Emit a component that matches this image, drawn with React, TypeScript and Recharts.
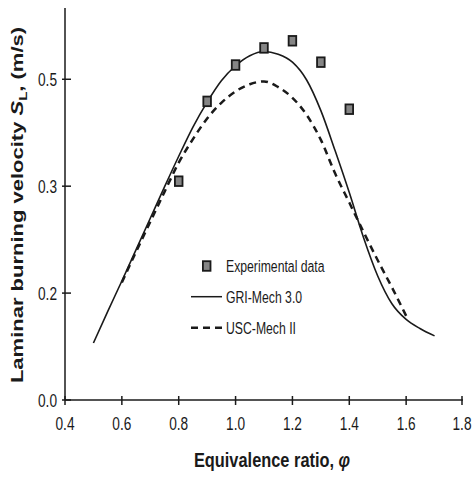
import React from 'react';
import { ComposedChart, Line, Scatter, XAxis, YAxis, Legend } from 'recharts';

// GRI-Mech 3.0 (solid)
const phiGri = [0.5, 0.55, 0.6, 0.65, 0.7, 0.75, 0.8, 0.85, 0.9, 0.95, 1.0, 1.05, 1.1, 1.15, 1.2, 1.25, 1.3, 1.35, 1.4, 1.45, 1.5, 1.55, 1.6, 1.65, 1.7];
const sGri = [0.08, 0.124, 0.167, 0.211, 0.255, 0.299, 0.342, 0.383, 0.418, 0.448, 0.469, 0.483, 0.489, 0.485, 0.474, 0.449, 0.406, 0.35, 0.291, 0.228, 0.174, 0.135, 0.113, 0.1, 0.09];

// USC-Mech II (dashed)
const phiUsc = [0.6, 0.65, 0.7, 0.75, 0.8, 0.85, 0.9, 0.95, 1.0, 1.05, 1.1, 1.15, 1.2, 1.25, 1.3, 1.35, 1.4, 1.45, 1.5, 1.55, 1.6];
const sUsc = [0.165, 0.208, 0.25, 0.292, 0.333, 0.366, 0.395, 0.417, 0.433, 0.443, 0.447, 0.439, 0.424, 0.4, 0.365, 0.318, 0.277, 0.236, 0.196, 0.158, 0.118];

// experimental data
const phiExp = [0.8, 0.9, 1.0, 1.1, 1.2, 1.3, 1.4];
const sExp = [0.307, 0.419, 0.47, 0.494, 0.504, 0.474, 0.408];

const xTicks = [0.4, 0.6, 0.8, 1.0, 1.2, 1.4, 1.6, 1.8];
const yTicks = [0, 0.15, 0.3, 0.45];

const griData = phiGri.map((phi, i) => ({ phi, s: sGri[i] }));
const uscData = phiUsc.map((phi, i) => ({ phi, s: sUsc[i] }));
const expData = phiExp.map((phi, i) => ({ phi, s: sExp[i] }));

const FONT = "'Liberation Sans', Arial, sans-serif";
const INK = '#1a1a1a';
const SQUEEZE = 0.72;

const fmtY = (v: number) => (Math.round(v * 10 + 1e-9) / 10).toFixed(1);

const XTick = (props: any) => {
  const { x, y, payload } = props;
  return (
    <g>
      <line x1={x} x2={x} y1={y - 4} y2={y + 5} stroke={INK} strokeWidth={1.5} />
      <text transform={`translate(${x},${y + 30}) scale(${SQUEEZE},1)`} textAnchor="middle"
        fontFamily={FONT} fontSize={19} fill={INK}>
        {Number(payload.value).toFixed(1)}
      </text>
    </g>
  );
};

const YTick = (props: any) => {
  const { x, y, payload } = props;
  return (
    <g>
      <line x1={x - 3} x2={x + 6} y1={y} y2={y} stroke={INK} strokeWidth={1.5} />
      <text transform={`translate(${x - 8},${y + 7}) scale(${SQUEEZE},1)`} textAnchor="end"
        fontFamily={FONT} fontSize={19} fill={INK}>
        {fmtY(payload.value)}
      </text>
    </g>
  );
};

const XTitle = (props: any) => {
  const vb = props.viewBox || { x: 65, y: 400, width: 398 };
  const cx = vb.x + vb.width / 2 + 8;
  return (
    <text transform={`translate(${cx},467) scale(${SQUEEZE + 0.06},1)`} textAnchor="middle"
      fontFamily={FONT} fontSize={21} fontWeight="bold" fill={INK}>
      Equivalence ratio, <tspan fontStyle="italic">φ</tspan>
    </text>
  );
};

const YTitle = () => (
  <text transform={`translate(23,205) rotate(-90) scale(1,${SQUEEZE})`} textAnchor="middle"
    fontFamily={FONT} fontSize={22} fontWeight="bold" fill={INK}>
    Laminar burning velocity <tspan fontStyle="italic">S</tspan>
    <tspan fontSize={15} dy={5}>L</tspan>
    <tspan dy={-5}>, (m/s)</tspan>
  </text>
);

const ExpMarker = (props: any) => {
  const { cx, cy } = props;
  return <rect x={cx - 3.8} y={cy - 4.8} width={7.6} height={9.6} fill="#858585" stroke={INK} strokeWidth={1.8} />;
};

const LegendBox = () => {
  const rows = ['Experimental data', 'GRI-Mech 3.0', 'USC-Mech II'];
  return (
    <svg width={160} height={95}>
      <rect x={17.9} y={11.2} width={7.6} height={9.6} fill="#858585" stroke={INK} strokeWidth={1.8} />
      <line x1={6} x2={37} y1={46.7} y2={46.7} stroke={INK} strokeWidth={1.5} />
      <line x1={6} x2={37} y1={77.7} y2={77.7} stroke={INK} strokeWidth={2.5} strokeDasharray="7 5" />
      {rows.map((r, i) => (
        <text key={r} transform={`translate(41,${22 + i * 31}) scale(${SQUEEZE},1)`}
          fontFamily={FONT} fontSize={17} fill={INK}>
          {r}
        </text>
      ))}
    </svg>
  );
};

export default function App() {
  return (
    <div style={{ position: 'absolute', left: 0, top: 0, width: 472, height: 479, background: '#fff' }}>
      <ComposedChart width={472} height={479} margin={{ top: 8, right: 9, left: 0, bottom: 0 }}>
        <XAxis
          dataKey="phi"
          type="number"
          domain={[0.4, 1.8]}
          ticks={xTicks}
          height={79}
          tickSize={0}
          tickMargin={0}
          tick={<XTick />}
          axisLine={{ stroke: INK, strokeWidth: 1.5 }}
          label={<XTitle />}
          allowDuplicatedCategory={false}
        />
        <YAxis
          dataKey="s"
          type="number"
          domain={[0, 0.55]}
          ticks={yTicks}
          width={65}
          tickSize={0}
          tickMargin={0}
          tick={<YTick />}
          axisLine={{ stroke: INK, strokeWidth: 1.5 }}
          label={<YTitle />}
        />
        <Legend
          layout="horizontal"
          verticalAlign="middle"
          align="center"
          content={<LegendBox />}
          wrapperStyle={{ position: 'absolute', left: 185, top: 250, width: 160, height: 95 }}
        />
        <Line data={griData} dataKey="s" type="monotone" stroke={INK} strokeWidth={1.6}
          dot={false} activeDot={false} isAnimationActive={false} name="GRI-Mech 3.0" />
        <Line data={uscData} dataKey="s" type="monotone" stroke={INK} strokeWidth={2.5}
          strokeDasharray="7 5" dot={false} activeDot={false} isAnimationActive={false} name="USC-Mech II" />
        <Scatter data={expData} dataKey="s" shape={<ExpMarker />} isAnimationActive={false}
          name="Experimental data" />
      </ComposedChart>
    </div>
  );
}
